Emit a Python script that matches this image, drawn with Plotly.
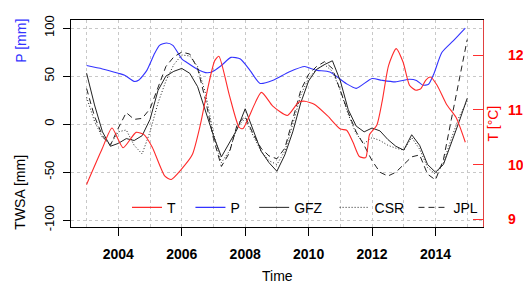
import plotly.graph_objects as go

# ---------------- data ----------------
quarters = [2003 + 0.25 * i for i in range(49)]

gfz = [53, 20, -8, -23, -20, -15, -17, -12, 5, 35, 50, 55, 58, 53, 39, 14,
       -12, -34, -19, -5, 16, -6, -28, -40, -49, -32, -8, 22, 45, 57, 62, 66,
       45, 15, -2, -8, -4, -7, -16, -23, -27, -11, -22, -42, -50, -42, -20, 3, 27]
csr = [28, 3, -14, -21, -8, -6, -22, -31, -8, 22, 45, 62, 72, 71, 60, 32,
       -10, -40, -28, -3, 6, -12, -28, -38, -42, -28, 0, 30, 48, 57, 62, 55,
       35, 10, -10, -20, -14, -17, -22, -25, -27, -14, -26, -45, -52, -40, -15, 8, 24]
jpl = [37, 8, -12, -22, -4, 12, 5, 6, 16, 38, 60, 70, 75, 73, 58, 25,
       -15, -44, -30, 0, 8, -10, -25, -33, -36, -25, 5, 35, 52, 60, 65, 58,
       35, 12, -8, -22, -38, -50, -54, -50, -42, -34, -32, -52, -58, -37, 5, 46, 88]

t_P = [2003.0, 2003.5, 2004.0, 2004.2, 2004.5, 2004.65, 2004.9, 2005.15, 2005.3, 2005.52,
       2005.72, 2006.0, 2006.15, 2006.55, 2006.75, 2006.95, 2007.25, 2007.55, 2007.85, 2008.15,
       2008.47, 2008.88, 2009.38, 2009.88, 2010.09, 2010.28, 2010.67, 2011.18, 2011.5, 2012.0,
       2012.3, 2012.73, 2013.18, 2013.4, 2013.6, 2013.78, 2013.95, 2014.2, 2014.55, 2014.94]
P = [61, 57.5, 53, 51, 44.5, 46, 56, 74, 82, 84.5,
     82, 68, 64.4, 56, 53.6, 54.3, 61, 69.5, 67.8, 56,
     42.4, 45.7, 54.3, 60, 57.6, 56, 54.3, 42.4, 37.3, 47.5,
     45.7, 44, 46.7, 45.5, 40.6, 41.5, 52.5, 74.6, 86.4, 100]

t_T = [2003.0, 2003.49, 2003.8, 2004.15, 2004.56, 2004.81, 2005.07, 2005.47, 2005.67, 2005.98,
       2006.33, 2006.59, 2006.84, 2007.04, 2007.17, 2007.5, 2007.81, 2007.93, 2008.51, 2008.87,
       2009.33, 2009.68, 2009.88, 2010.19, 2010.6, 2011.0, 2011.2, 2011.4, 2011.6, 2011.8,
       2011.92, 2012.15, 2012.32, 2012.52, 2012.76, 2012.98, 2013.18, 2013.38, 2013.54, 2013.69,
       2013.84, 2014.05, 2014.35, 2014.65, 2014.94]
T = [9.64, 10.29, 10.67, 10.31, 10.59, 10.55, 10.32, 9.79, 9.73, 9.91,
     10.18, 10.74, 11.45, 11.9, 11.98, 11.27, 10.68, 10.66, 11.32, 11.07,
     10.90, 11.14, 11.16, 11.10, 10.89, 10.65, 10.63, 10.41, 10.15, 10.13,
     10.55, 10.72, 11.16, 11.81, 12.12, 11.87, 11.45, 11.36, 11.39, 11.54,
     11.60, 11.45, 11.10, 10.86, 10.41]

x_ticks = [2004, 2006, 2008, 2010, 2012, 2014]
y_ticks = [-100, -50, 0, 50, 100]
t_ticks = [9, 10, 11, 12]

# ---------------- layout helpers ----------------
# the page body has a default 8px margin, so the figure is shifted by OFF
OFF = 8
W, H = 531 - OFF, 283 - OFF
PLOT_L, PLOT_R, PLOT_T, PLOT_B = 71, 497.7, 15, 227  # target, in window pixels
L = PLOT_L - OFF
TOP = PLOT_T - OFF
R = W - (PLOT_R - OFF)
BOT = H - (PLOT_B - OFF)
PW, PH = PLOT_R - PLOT_L, PLOT_B - PLOT_T


def px_x(p):
    return (p - PLOT_L) / PW


def px_y(p):
    return (PLOT_B - p) / PH


FONT = "Liberation Sans, Arial, Helvetica, sans-serif"
GRID = "#c8c8c8"

fig = go.Figure()

fig.add_trace(go.Scatter(x=t_T, y=T, name="T", yaxis="y2", mode="lines",
                         line=dict(color="#ff2a2a", width=1.1, shape="spline", smoothing=0.6),
                         legend="legend"))
fig.add_trace(go.Scatter(x=t_P, y=P, name="P", mode="lines",
                         line=dict(color="#3333ff", width=1.1, shape="spline", smoothing=0.6),
                         legend="legend2"))
fig.add_trace(go.Scatter(x=quarters, y=gfz, name="GFZ", mode="lines",
                         line=dict(color="#222222", width=1.0),
                         legend="legend3"))
fig.add_trace(go.Scatter(x=quarters, y=csr, name="CSR", mode="lines",
                         line=dict(color="#222222", width=1.0, dash="1px,2px"),
                         legend="legend4"))
fig.add_trace(go.Scatter(x=quarters, y=jpl, name="JPL", mode="lines",
                         line=dict(color="#222222", width=1.0, dash="6px,4px"),
                         legend="legend5"))

leg_common = dict(orientation="h", yanchor="middle", xanchor="left",
                  bgcolor="rgba(0,0,0,0)", borderwidth=0,
                  font=dict(family=FONT, size=14, color="#000"))
label_starts = [170, 235.7, 301.7, 385, 466.7]
leg_y = px_y(207.3)
legends = {}
for i, ls in enumerate(label_starts):
    key = "legend" if i == 0 else f"legend{i + 1}"
    legends[key] = dict(leg_common, x=px_x(ls - 41), y=leg_y)

fig.update_layout(
    width=W, height=H,
    margin=dict(l=L, r=R, t=TOP, b=BOT),
    paper_bgcolor="white", plot_bgcolor="white",
    font=dict(family=FONT, size=13, color="#000"),
    showlegend=True,
    **legends,
    xaxis=dict(range=[2002.508, 2015.498], tickvals=x_ticks, ticktext=[str(v) for v in x_ticks],
               ticks="outside", ticklen=8, tickcolor="#000", tickwidth=1,
               tickfont=dict(family=FONT, size=14, color="#000", weight="bold"),
               ticklabelstandoff=6,
               showline=True, linecolor="#000", linewidth=1.3, mirror=True,
               showgrid=True, gridcolor=GRID, griddash="dot", gridwidth=1,
               minor=dict(tickvals=list(range(2003, 2016)), showgrid=True, gridcolor=GRID,
                          griddash="dot", gridwidth=1, ticks=""),
               zeroline=False),
    yaxis=dict(range=[-107.0, 108.4], tickvals=y_ticks, ticktext=[str(v) for v in y_ticks],
               ticks="outside", ticklen=7, tickcolor="#000", tickwidth=1,
               tickangle=-90, tickfont=dict(family=FONT, size=13, color="#000"),
               ticklabelstandoff=4,
               showline=True, linecolor="#000", linewidth=1.3,
               showgrid=True, gridcolor=GRID, griddash="dot", gridwidth=1,
               zeroline=False),
    yaxis2=dict(range=[8.863, 12.642], overlaying="y", side="right",
                tickvals=t_ticks, ticktext=[str(v) for v in t_ticks],
                ticks="inside", ticklen=10, tickcolor="#ff3030", tickwidth=1,
                tickfont=dict(family=FONT, size=14, color="#ff0000", weight="bold"),
                ticklabelstandoff=21,
                showline=True, linecolor="#e04040", linewidth=1.3,
                showgrid=False, zeroline=False),
    annotations=[
        dict(text="P [mm]", x=px_x(18.5), y=px_y(36), xref="paper", yref="paper",
             textangle=-90, showarrow=False, xanchor="center", yanchor="middle",
             font=dict(family=FONT, size=14, color="#3333ff")),
        dict(text="TWSA [mm]", x=px_x(18.5), y=px_y(191.5), xref="paper", yref="paper",
             textangle=-90, showarrow=False, xanchor="center", yanchor="middle",
             font=dict(family=FONT, size=14, color="#000")),
        dict(text="T [°C]", x=px_x(508), y=px_y(121), xref="paper", yref="paper",
             textangle=-90, showarrow=False, xanchor="center", yanchor="middle",
             font=dict(family=FONT, size=14, color="#ff0000")),
        dict(text="Time", x=px_x(285), y=px_y(276.7), xref="paper", yref="paper",
             showarrow=False, xanchor="center", yanchor="middle",
             font=dict(family=FONT, size=14, color="#000")),
    ],
)

fig.write_html("out.html")
